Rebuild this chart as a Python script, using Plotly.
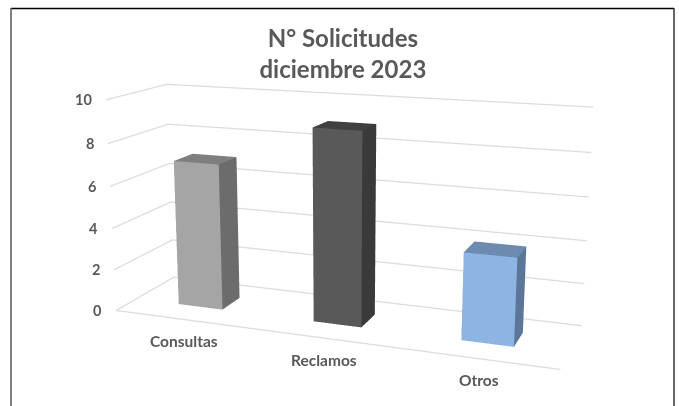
import numpy as np
import plotly.graph_objects as go

categories = ["Consultas", "Reclamos", "Otros"]
values = [7, 9, 4]
z_ticks = [0, 2, 4, 6, 8, 10]
front = ["#a5a5a5", "#595959", "#8eb4e3"]
top = ["#7f7f7f", "#404040", "#6d8bb1"]
side = ["#6c6c6c", "#3a3a3a", "#5b7699"]

# plotly's 3D camera has a fixed 45 degree field of view, so the scene is made
# taller than the window to get the longer lens of the original chart.
H = 940
offset = 203 - H / 2
def py(y):
    return 1 - (y - offset) / H

t = 1 / 3
fig = go.Figure()
for n, v in enumerate(values):
    x0, x1 = n + t, n + 2 * t
    y0, y1 = t, 2 * t
    vx = [x0, x1, x1, x0, x0, x1, x1, x0]
    vy = [y0, y0, y1, y1, y0, y0, y1, y1]
    vz = [0, 0, 0, 0, v, v, v, v]
    I = [0, 0, 1, 1, 4, 4, 0, 0, 3, 3, 2, 2]
    J = [1, 5, 2, 6, 5, 6, 3, 7, 2, 6, 3, 7]
    K = [5, 4, 6, 5, 6, 7, 7, 4, 6, 7, 7, 4]
    cols = [front[n]] * 2 + [side[n]] * 2 + [top[n]] * 2 + [side[n]] * 6
    fig.add_trace(go.Mesh3d(x=vx, y=vy, z=vz, i=I, j=J, k=K, facecolor=cols, flatshading=True,
                            lighting=dict(ambient=1, diffuse=0, specular=0, fresnel=0, roughness=1),
                            hoverinfo="skip", showscale=False))
gx, gy, gz = [], [], []
for z in z_ticks:
    gx += [0, 0, 3, None]
    gy += [0, 1, 1, None]
    gz += [z, z, z, None]
gx += [0, 3]
gy += [0, 0]
gz += [0, 0]
fig.add_trace(go.Scatter3d(x=gx, y=gy, z=gz, mode="lines", line=dict(color="#dcdcdc", width=2.5),
                           hoverinfo="skip", showlegend=False))
annots = [dict(x=0, y=0, z=z, text=f"<b>{z}</b>", showarrow=False, xanchor="right", xshift=-12,
               font=dict(family="Lato", size=14.5, color="#595959")) for z in z_ticks]
annots += [dict(x=i + 0.5, y=0, z=0, text=f"<b>{c}</b>", showarrow=False, xshift=2, yshift=-22,
                font=dict(family="Lato", size=15.5, color="#595959")) for i, c in enumerate(categories)]
ax_hidden = dict(showgrid=False, zeroline=False, showticklabels=False, showline=False,
                 showbackground=False, showspikes=False, title="", ticks="")
def frame(x0, y0, x1, y1, color):
    return dict(type="line", xref="paper", yref="paper", x0=x0 / 679, x1=x1 / 679, y0=py(y0), y1=py(y1),
                line=dict(color=color, width=1.5))
fig.update_layout(
    width=679, height=H, margin=dict(l=0, r=0, t=0, b=0), paper_bgcolor="white", showlegend=False,
    title=dict(text="<b>N° Solicitudes<br>diciembre 2023</b>", x=0.505, xanchor="center", y=py(47), yanchor="top",
               font=dict(family="Lato", size=24, color="#595959")),
    scene=dict(domain=dict(x=[0, 1], y=[0, 1]),
               xaxis=dict(ax_hidden, range=[0, 3]), yaxis=dict(ax_hidden, range=[0, 1]),
               zaxis=dict(ax_hidden, range=[0, 10]),
               aspectmode="manual", aspectratio=dict(x=1, y=0.2680, z=0.4784),
               camera=dict(eye=dict(x=0.8279, y=-2.2319, z=0.5998),
                           center=dict(x=-0.0187, y=0.0182, z=0.0169),
                           up=dict(x=0.0019, y=0, z=1), projection=dict(type="perspective")),
               annotations=annots),
    shapes=[frame(11, 8.5, 674, 8.5, "black"), frame(11, 8, 11, 500, "#555555"), frame(674, 8, 674, 500, "#333333")])
fig.write_html("out.html", post_script="document.body.style.margin='0';document.body.style.overflow='hidden';document.documentElement.style.overflow='hidden';document.getElementById('{plot_id}').style.marginTop='%dpx';" % round(offset))
